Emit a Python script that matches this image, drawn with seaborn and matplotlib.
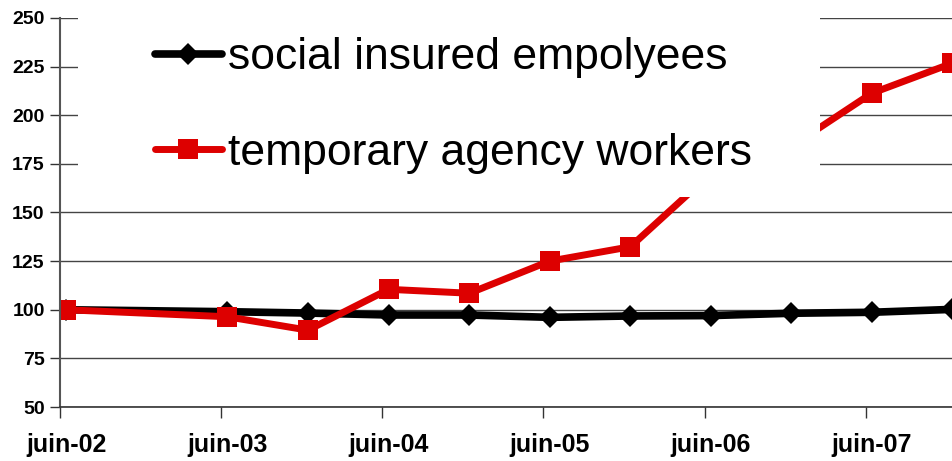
import pandas as pd
import seaborn as sns
import numpy as np
import matplotlib.pyplot as plt
import matplotlib.dates as mdates
from matplotlib.patches import Rectangle

# données (index, juin 2002 = 100)
dates = ['2002-06-15', '2003-06-15', '2003-12-15', '2004-06-15', '2004-12-15', '2005-06-15',
         '2005-12-15', '2006-06-15', '2006-12-15', '2007-06-15', '2007-12-15']
insured = [100, 99, 98.3, 97.3, 97.3, 96.1, 96.8, 97.0, 98.2, 98.7, 100.2]
temporary = [100, 96.4, 89.5, 110.5, 108.5, 125, 132.4, 170, 184, 211.3, 226.8]
tick_dates = ['2002-06-01', '2003-06-01', '2004-06-01', '2005-06-01', '2006-06-01', '2007-06-01']
tick_labels = ['juin-02', 'juin-03', 'juin-04', 'juin-05', 'juin-06', 'juin-07']
label_dates = ['2002-06-15', '2003-06-15', '2004-06-15', '2005-06-15', '2006-06-15', '2007-06-15']
y_ticks = [50, 75, 100, 125, 150, 175, 200, 225, 250]

df = pd.DataFrame({'date': pd.to_datetime(dates), 'insured': insured, 'temporary': temporary})

sns.set_style('white')
plt.rcParams['font.family'] = ['Liberation Sans', 'DejaVu Sans']
plt.rcParams['text.color'] = 'black'
plt.rcParams['xtick.color'] = 'black'
plt.rcParams['ytick.color'] = 'black'

fig = plt.figure(figsize=(9.52, 4.61), dpi=100)
ax = fig.add_axes([60 / 952, 54 / 461, 892 / 952, 389 / 461])

sns.lineplot(data=df, x='date', y='insured', ax=ax, color='black', linewidth=5.5,
             marker='D', markersize=11, markeredgewidth=0, label='social insured empolyees')
sns.lineplot(data=df, x='date', y='temporary', ax=ax, color='#dd0000', linewidth=5,
             marker='s', markersize=14, markeredgewidth=0, label='temporary agency workers')

ax.set_ylim(50, 250)
ax.set_xlim(pd.Timestamp('2002-06-01'), pd.Timestamp('2007-12-14'))
ax.set_yticks(y_ticks)
ax.set_yticklabels([str(v) for v in y_ticks], fontsize=14, fontweight='bold')
ax.grid(axis='y', color='#444444', linewidth=1)
ax.set_axisbelow(True)

ax.set_xticks(mdates.date2num(pd.to_datetime(tick_dates)))
ax.set_xticklabels([])
ax.set_xticks(mdates.date2num(pd.to_datetime(label_dates)), minor=True)
ax.set_xticklabels(tick_labels, minor=True, fontsize=18, fontweight='bold')
ax.tick_params(axis='x', which='major', direction='out', length=8, width=1, color='#333333', bottom=True)
ax.tick_params(axis='x', which='minor', length=0, pad=19)
ax.tick_params(axis='y', direction='out', length=7, width=1, color='#333333', left=True, pad=4)
ax.set_xlabel('')
ax.set_ylabel('')

for side in ['top', 'right']:
    ax.spines[side].set_visible(False)
ax.spines['left'].set_color('#555555')
ax.spines['left'].set_linewidth(1.5)
ax.spines['bottom'].set_color('#333333')
ax.spines['bottom'].set_linewidth(1.2)

# zone blanche de la légende
ax.add_patch(Rectangle((18 / 892, 0.54), 742 / 892, 0.5, transform=ax.transAxes,
                       facecolor='white', edgecolor='none', zorder=4, clip_on=False))
leg = ax.legend(loc='upper left', bbox_to_anchor=(95 / 892, 0.95), frameon=False, fontsize=32,
                handlelength=1.5, handletextpad=0.15, labelspacing=1.22, borderpad=0, borderaxespad=0)
leg.set_zorder(5)

fig.savefig('out.png', dpi=100)
